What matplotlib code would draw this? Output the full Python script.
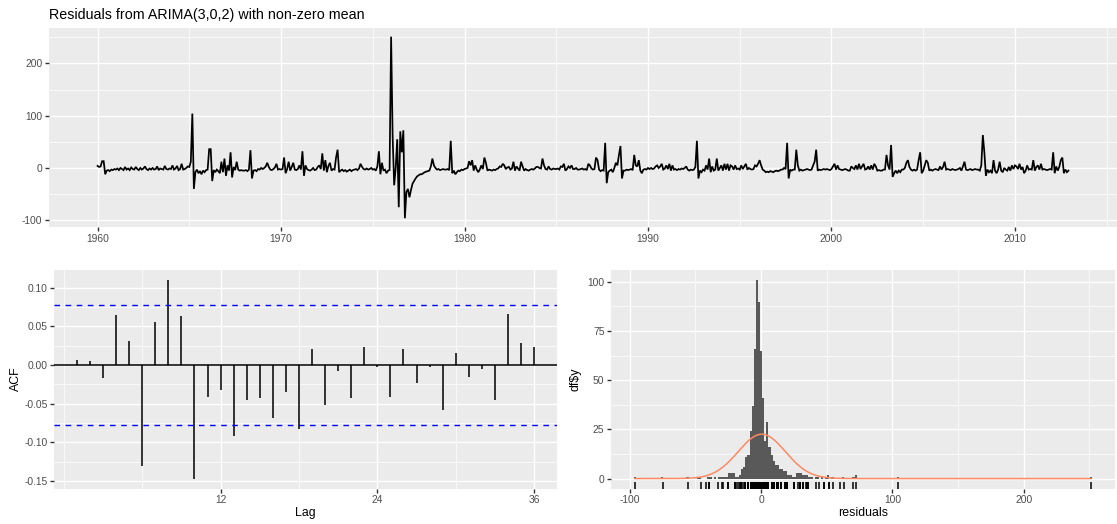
import numpy as np
import matplotlib
matplotlib.use("Agg")
import matplotlib.pyplot as plt
from matplotlib.ticker import FormatStrFormatter

plt.rcParams['font.family'] = ['Liberation Sans', 'DejaVu Sans']
plt.rcParams['axes.unicode_minus'] = False

# ---------------- data ----------------
title = "Residuals from ARIMA(3,0,2) with non-zero mean"
start_year = 1960

res_1960s = [
    4, 2, 3, 13, 13, -12, -5, -4, -6, -3, -4, -2,
    -3, -1, -4, 0, -2, -4, 2, -3, -1, -4, 1, -2,
    -3, 2, -2, -4, 0, -3, -1, 3, -2, -4, -1, -3,
    0, -3, -2, 3, -4, -1, -2, -3, 4, -2, -3, -1,
    -2, 5, -3, -1, 4, -4, -2, 8, -3, -2, 0, 3,
    2, 12, 104, -40, -8, -3, -10, -6, -12, -5, -8, -4,
    -3, 36, 36, -25, -4, -8, -3, -6, -10, 12, -8, 18,
    -15, 5, -5, 30, -18, 2, -4, 12, -3, -5, -4, -5,
    -5, -4, -6, -3, 34, -20, -5, -4, -6, -2, -3, 0,
    -2, 0, 3, 10, 2, -3, -4, -2, 1, 8, -3, -2,
]
res_1970s = [
    -3, -2, 20, -10, -2, 12, -5, 2, 10, -3, -4, -2,
    5, -3, 32, -15, 5, -2, -4, -5, -3, 0, -4, -3,
    2, 5, -2, 28, -5, 15, -8, 4, 10, -5, -2, -3,
    20, 35, -8, -5, -3, -6, -4, -7, -5, -3, -6, -4,
    -3, -2, -4, -1, 8, 2, -2, -3, -1, -3, -2, 0,
    -3, -2, -5, 3, 32, -12, 10, -5, -3, -10, -5, -4,
    251, 60, -33, 0, 55, -75, 70, 30, 72, -96, -46, -40,
    -56, -42, -30, -25, -20, -16, -14, -12, -12, -10, -8, -7,
    -6, -5, 3, 18, 5, 0, -3, -2, -4, -3, -2, -3,
    -3, -2, -4, 52, -10, -5, -12, -8, -5, -6, -3, -4,
]
res_1980s = [
    -2, -1, 0, 13, 5, 15, -5, 5, -3, -8, -3, 5,
    -2, 20, 10, -5, -3, -4, -5, -3, -4, -2, -1, 3,
    2, 8, 5, -2, 1, 2, -3, -1, 12, -5, 3, -1,
    -5, 12, 3, -5, -2, -4, -5, -3, -2, -3, -1, 2,
    2, 0, -1, 18, 5, -2, -3, 3, -2, -3, -1, -2,
    -2, -1, -3, 3, 2, 8, -5, -2, 3, 0, 5, -2,
    -2, 0, -3, -3, -2, -1, -3, -2, -4, 8, 5, -1,
    -3, -2, 20, 15, -3, -6, -4, -5, 48, -29, -8, -5,
    -3, -8, 0, 10, 5, 25, 42, -20, -5, -5, -3, -4,
    -3, -2, -4, 25, 5, 3, 15, -5, -10, -3, -2, -3,
]
res_1990s = [
    0, -2, 0, -2, -1, 3, 5, 0, 3, 8, -3, -1,
    5, -2, 8, -5, 5, -3, -2, -4, -2, -3, -1, -2,
    0, 3, -3, -5, -3, -4, -3, 2, 52, -20, -5, -8,
    -3, -5, 5, -3, 18, -8, 3, -5, -3, 18, -5, 0,
    5, -5, 8, -3, 8, -5, 5, 3, -3, 5, -2, -1,
    -3, 5, -2, 3, 8, -3, 0, -2, -3, -2, 5, 3,
    8, 15, 5, -3, -5, -8, -7, -8, -6, -7, -8, -6,
    -5, -6, -5, -3, -3, 0, -2, 48, -20, -3, -5, -3,
    -3, 35, 5, -5, -3, -5, -4, -3, -2, -3, -4, -3,
    5, 12, 35, -5, -3, -4, -3, -2, -3, -2, -3, -4,
]
res_2000s = [
    -2, 3, 8, -3, 5, -2, -3, -4, -3, -2, -3, -5,
    -5, 3, 0, -2, 5, -3, 8, -2, 3, 8, -3, -2,
    3, -3, 5, -3, 8, 3, -5, -4, -5, -5, -3, -3,
    25, 5, -3, 44, -17, -10, -5, -10, -5, -8, -3, -3,
    0, 10, 15, 2, -3, -5, -3, -5, -3, 15, 30, -10,
    -5, 5, 15, 10, -5, -3, -5, -3, -2, -3, -4, 3,
    -3, 2, 12, -3, -2, -3, -4, -2, -3, -4, -3, -2,
    0, -5, 3, 12, -3, -4, -3, -2, -4, -3, -2, -3,
    -3, -5, 5, 63, 30, -15, -3, -8, -5, -10, 15, -5,
    -10, -3, 12, -5, -8, 0, -3, -5, 2, -5, 5, -2,
]
res_2010s = [
    5, 3, -2, 8, -3, 2, -10, -5, 5, -3, -2, -3,
    15, -5, 2, 5, -3, 8, -3, -2, -3, -4, -3, -2,
    -3, 30, -10, 3, -5, 2, 15, 20, -10, -3, -8, -5,
]

acf_lags = list(range(1, 37))
acf_values = [
    0.006, 0.005, -0.017, 0.065, 0.031, -0.131, 0.056, 0.110, 0.063, -0.147,
    -0.042, -0.032, -0.092, -0.045, -0.043, -0.069, -0.035, -0.083, 0.021, -0.052,
    -0.008, -0.043, 0.023, -0.003, -0.041, 0.021, -0.023, -0.003, -0.058, 0.016,
    -0.015, -0.005, -0.045, 0.066, 0.028, 0.023,
]

hist_origin = -4.0
hist_binwidth = 1.6
hist_bin_index = [-58, -45, -33, -28, -27, -23, -22, -20, -18, -17, -16, -15, -14,
                  -13, -12, -11, -10, -9, -8, -7, -6, -5, -4, -3, -2, -1,
                  0, 1, 2, 3, 4, 5, 6, 7, 8, 9, 10, 11, 12, 13, 14, 15, 16, 17,
                  18, 19, 20, 21, 22, 23, 24, 25, 26, 28, 29, 31, 33, 34, 36,
                  41, 46, 47, 67, 159]
hist_counts = [1, 1, 1, 1, 1, 1, 1, 1, 1, 1, 1, 1, 1,
               3, 3, 3, 1, 1, 2, 5, 6, 11, 12, 24, 37, 66,
               101, 90, 65, 41, 19, 29, 16, 12, 9, 7, 7, 5, 5, 4, 4, 2, 2, 1,
               1, 3, 3, 3, 2, 2, 2, 1, 1, 1, 1, 1, 1, 2, 1,
               1, 1, 2, 1, 1]
normal_mean = 0.5
normal_sd = 18.0

# ---------------- derived ----------------
residuals = np.array(res_1960s + res_1970s + res_1980s + res_1990s + res_2000s + res_2010s, dtype=float)
n = len(residuals)
time = start_year + np.arange(n) / 12.0
acf_lags = np.array(acf_lags)
acf_values = np.array(acf_values)
bin_left = hist_origin + hist_binwidth * np.array(hist_bin_index)
counts = np.array(hist_counts, dtype=float)

W, H = 1117, 524
fig = plt.figure(figsize=(W / 100, H / 100), dpi=100)
fig.patch.set_facecolor('white')


def add_ax(l, t, r, b):
    return fig.add_axes([l / W, 1 - b / H, (r - l) / W, (b - t) / H])


def expand(lo, hi, f=0.05):
    d = (hi - lo) * f
    return lo - d, hi + d


def style(ax, xmaj, xmin, ymaj, ymin):
    ax.set_facecolor('#EBEBEB')
    for s in ax.spines.values():
        s.set_visible(False)
    ax.set_xticks(xmaj)
    ax.set_xticks(xmin, minor=True)
    ax.set_yticks(ymaj)
    ax.set_yticks(ymin, minor=True)
    ax.grid(True, which='major', color='white', linewidth=1.0)
    ax.grid(True, which='minor', color='white', linewidth=0.5)
    ax.set_axisbelow(True)
    ax.tick_params(which='major', length=2.7, width=1.0, color='#333333',
                   labelsize=7.4, labelcolor='#4D4D4D', pad=2.0)
    ax.tick_params(which='minor', length=0, width=0)


# ---- top: residual time series ----
ax1 = add_ax(49, 27.6, 1117, 227.3)
ax1.plot(time, residuals, color='black', linewidth=1.25, solid_joinstyle='miter')
ax1.set_xlim(*expand(time.min(), time.max()))
ax1.set_ylim(*expand(residuals.min(), residuals.max()))
style(ax1, [1960, 1970, 1980, 1990, 2000, 2010], [1965, 1975, 1985, 1995, 2005, 2015],
      [-100, 0, 100, 200], [-50, 50, 150, 250])
ax1.set_xticklabels(['1960', '1970', '1980', '1990', '2000', '2010'])
fig.text(49 / W, 1 - 15 / H, title, fontsize=10.3, ha='left', va='center', color='black')

# ---- bottom left: ACF ----
ax2 = add_ax(54, 270, 557, 488.5)
ci = 1.96 / np.sqrt(n)
ax2.vlines(acf_lags, 0, acf_values, color='black', linewidth=1.1)
ax2.axhline(0, color='black', linewidth=1.1)
for c in (ci, -ci):
    ax2.axhline(c, color='blue', linewidth=1.0, linestyle=(0, (4, 4)))
ax2.set_xlim(*expand(acf_lags.min(), acf_lags.max()))
ax2.set_ylim(*expand(min(acf_values.min(), -ci, 0), max(acf_values.max(), ci, 0)))
style(ax2, [12, 24, 36], [0, 6, 18, 30],
      [-0.15, -0.10, -0.05, 0.0, 0.05, 0.10], [-0.125, -0.075, -0.025, 0.025, 0.075])
ax2.yaxis.set_major_formatter(FormatStrFormatter('%.2f'))
fig.text(305.5 / W, 1 - 513 / H, 'Lag', fontsize=8.9, ha='center', va='center')
fig.text(16 / W, 1 - 379 / H, 'ACF', fontsize=8.9, ha='center', va='center', rotation=90)

# ---- bottom right: histogram ----
ax3 = add_ax(611, 270, 1115, 488.5)
ax3.bar(bin_left, counts, width=hist_binwidth, align='edge', color='#595959', linewidth=0)
xs = np.linspace(residuals.min(), residuals.max(), 600)
ys = n * hist_binwidth * np.exp(-0.5 * ((xs - normal_mean) / normal_sd) ** 2) / (normal_sd * np.sqrt(2 * np.pi))
ax3.plot(xs, ys, color='#FF8A62', linewidth=1.1)
ax3.vlines(residuals, 0, 0.03, transform=ax3.get_xaxis_transform(), color='black', linewidth=1.1)
xlo = min(bin_left.min(), residuals.min())
xhi = max((bin_left + hist_binwidth).max(), residuals.max())
ax3.set_xlim(*expand(xlo, xhi))
ax3.set_ylim(*expand(0, counts.max()))
style(ax3, [-100, 0, 100, 200], [-50, 50, 150, 250],
      [0, 25, 50, 75, 100], [12.5, 37.5, 62.5, 87.5])
fig.text(863 / W, 1 - 513 / H, 'residuals', fontsize=8.9, ha='center', va='center')
fig.text(576 / W, 1 - 379 / H, r'df\$y', fontsize=8.9, ha='center', va='center', rotation=90)

fig.savefig('out.png', dpi=100, facecolor='white')
